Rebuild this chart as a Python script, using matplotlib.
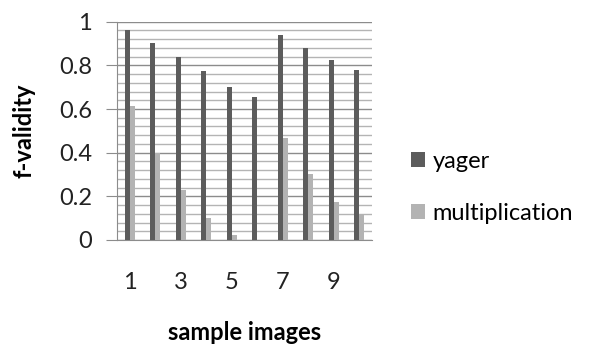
import matplotlib.pyplot as plt
import numpy as np

samples = [1, 2, 3, 4, 5, 6, 7, 8, 9, 10]
yager = [0.962, 0.901, 0.837, 0.773, 0.701, 0.653, 0.937, 0.878, 0.824, 0.777]
multiplication = [0.612, 0.397, 0.229, 0.099, 0.023, 0.0, 0.466, 0.301, 0.173, 0.12]
tick_labels = ["1", "", "3", "", "5", "", "7", "", "9", ""]

plt.rcParams['font.family'] = ['Lato', 'DejaVu Sans']

fig = plt.figure(figsize=(5.89, 3.47), dpi=100)
ax = fig.add_axes([0.1986, 0.3084, 0.4330, 0.6291])

x = np.arange(len(samples))
w = 0.2
ax.bar(x - w / 2, yager, w, color="#5c5c5c", label="yager", zorder=3)
ax.bar(x + w / 2, multiplication, w, color="#b3b3b3", label="multiplication", zorder=3)

ax.set_xlim(-0.5, len(samples) - 0.5)
ax.set_ylim(0, 1)
ax.set_yticks(np.arange(0, 1.01, 0.2))
ax.set_yticklabels(["0", "0.2", "0.4", "0.6", "0.8", "1"])
ax.set_yticks(np.arange(0, 1.001, 0.04), minor=True)
ax.grid(axis="y", which="major", color="#8c8c8c", linewidth=1.0, zorder=0)
ax.grid(axis="y", which="minor", color="#b4b4b4", linewidth=1.0, zorder=0)

ax.set_xticks(x)
ax.set_xticklabels(tick_labels)
ax.tick_params(axis="x", length=0, pad=23, labelsize=17, labelcolor="#222222")
ax.tick_params(axis="y", which="major", length=8, color="#8c8c8c", labelsize=17,
               labelcolor="#222222", pad=10)
ax.tick_params(axis="y", which="minor", length=0)

for s in ["top", "right"]:
    ax.spines[s].set_visible(False)
ax.spines["left"].set_color("#8c8c8c")
ax.spines["bottom"].set_color("#8c8c8c")

ax.set_ylabel("f-validity", fontsize=17, fontweight="bold", labelpad=17)
ax.set_xlabel("sample images", fontsize=17, fontweight="bold", labelpad=20)

ax.legend(loc="center left", bbox_to_anchor=(1.07, 0.24), frameon=False,
          fontsize=17, handlelength=0.6, handleheight=0.6, handletextpad=0.3,
          labelspacing=1.3)

fig.savefig("out.png")
